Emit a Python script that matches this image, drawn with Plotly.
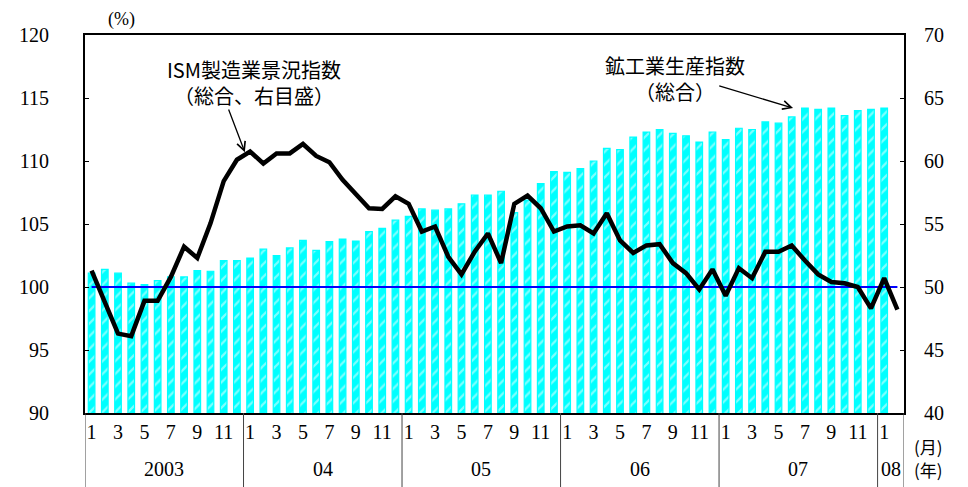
import plotly.graph_objects as go

# ---- data ----
year_labels = ["2003", "04", "05", "06", "07", "08"]
months_in_year = [12, 12, 12, 12, 12, 2]

# 鉱工業生産指数（総合）, Jan 2003 - Jan 2008 (left axis)
production = [
    101.1, 101.4, 101.1, 100.3, 100.2, 100.5, 100.8, 100.8, 101.3, 101.25, 102.1, 102.1,
    102.3, 103.0, 102.5, 103.1, 103.7, 102.9, 103.6, 103.8, 103.65, 104.4, 104.65, 105.3,
    105.6, 106.2, 106.1, 106.2, 106.6, 107.3, 107.3, 107.6, 105.9, 106.9, 108.2, 109.15,
    109.1, 109.4, 110.0, 111.0, 110.9, 111.9, 112.3, 112.5, 112.2, 112.0, 111.5, 112.3,
    111.7, 112.6, 112.5, 113.1, 113.0, 113.5, 114.2, 114.1, 114.2, 113.6, 114.0, 114.1,
    114.2,
]

# ISM製造業景況指数（総合）, Jan 2003 - Feb 2008 (right axis)
ism = [
    51.3, 48.7, 46.3, 46.1, 48.9, 48.9, 50.8, 53.2, 52.3, 55.05, 58.4, 60.1,
    60.75, 59.8, 60.6, 60.6, 61.35, 60.4, 59.9, 58.5, 57.35, 56.25, 56.2, 57.2,
    56.6, 54.4, 54.8, 52.4, 51.0, 52.8, 54.25, 51.9, 56.6, 57.25, 56.25, 54.4,
    54.8, 54.9, 54.25, 55.85, 53.7, 52.7, 53.3, 53.4, 51.9, 51.1, 49.8, 51.4,
    49.3, 51.5, 50.7, 52.8, 52.8, 53.3, 52.1, 51.0, 50.4, 50.3, 50.0, 48.3,
    50.7, 48.2,
]

base_level = 100  # 基準線 (左目盛100 = 右目盛50)

left_ticks = [90, 95, 100, 105, 110, 115, 120]
right_ticks = [40, 45, 50, 55, 60, 65, 70]

# ---- derived indices ----
n_total = sum(months_in_year)
idx = list(range(n_total))
month_num = []
for m in months_in_year:
    month_num += list(range(1, m + 1))
tickvals = [i for i in idx if month_num[i] % 2 == 1]
ticktext = [str(month_num[i]) for i in tickvals]

serif = "Liberation Serif"
gothic = "Noto Sans CJK JP"

fig = go.Figure()

fig.add_trace(go.Bar(
    x=idx[:len(production)], y=production, yaxis="y",
    width=0.5,
    marker=dict(
        color="#00FFFF",
        line=dict(color="#00FFFF", width=1.2),
        pattern=dict(shape="/", fgcolor="white", bgcolor="#00FFFF", size=9, solidity=0.25),
    ),
    showlegend=False,
))

fig.add_trace(go.Scatter(
    x=[idx[0], idx[-1]], y=[base_level, base_level], yaxis="y",
    mode="lines", line=dict(color="#0000FF", width=2), showlegend=False,
))

fig.add_trace(go.Scatter(
    x=idx, y=ism, yaxis="y2",
    mode="lines", line=dict(color="black", width=4.5), showlegend=False,
))

# year divider lines and labels
shapes = []
annotations = []
start = 0
bounds = [-0.5]
for ylab, m in zip(year_labels, months_in_year):
    end = start + m
    bounds.append(end - 0.5)
    annotations.append(dict(
        x=(start + end - 1) / 2, y=-0.148, xref="x", yref="paper",
        text=ylab, showarrow=False, font=dict(family=serif, size=20, color="black"),
        xanchor="center", yanchor="middle",
    ))
    start = end
for b in bounds:
    shapes.append(dict(type="line", xref="x", yref="paper", x0=b, x1=b, y0=0, y1=-0.2,
                       line=dict(color="#444444", width=1)))

label_font = dict(family=gothic, size=20, color="black")
annotations += [
    dict(x=1.03, y=-0.088, xref="paper", yref="paper", text="(月)", showarrow=False,
         font=dict(family=gothic, size=17, color="black"), xanchor="center", yanchor="middle"),
    dict(x=1.03, y=-0.15, xref="paper", yref="paper", text="(年)", showarrow=False,
         font=dict(family=gothic, size=17, color="black"), xanchor="center", yanchor="middle"),
    dict(x=0.045, y=1.04, xref="paper", yref="paper", text="(%)", showarrow=False,
         font=dict(family=serif, size=18, color="black"), xanchor="center", yanchor="middle"),
    dict(x=12.3, y=66.2, xref="x", yref="y2", text="ISM製造業景況指数<br>（総合、右目盛）",
         showarrow=False, font=label_font, xanchor="center", yanchor="middle"),
    dict(x=44.2, y=116.56, xref="x", yref="y", text="鉱工業生産指数<br>（総合）",
         showarrow=False, font=label_font, xanchor="center", yanchor="middle"),
    # arrows
    dict(x=11.6, y=60.7, xref="x", yref="y2", ax=10.33, ay=64.2, axref="x", ayref="y2",
         text="", showarrow=True, arrowhead=5, arrowsize=1.3, arrowwidth=1.3, arrowcolor="black"),
    dict(x=53.1, y=114.2, xref="x", yref="y", ax=47.4, ay=116.0, axref="x", ayref="y",
         text="", showarrow=True, arrowhead=5, arrowsize=1.3, arrowwidth=1.3, arrowcolor="black"),
]

# page body adds an 8px offset, so the figure is sized to the remaining window
fig.update_layout(
    width=960, height=479,
    margin=dict(l=77, r=64, t=27, b=74, autoexpand=False),
    plot_bgcolor="white", paper_bgcolor="white",
    xaxis=dict(
        range=[-0.5, n_total - 0.5], tickvals=tickvals, ticktext=ticktext,
        ticks="", showgrid=False, zeroline=False, automargin=False,
        showline=True, linecolor="black", linewidth=2, mirror=True,
        tickfont=dict(family=serif, size=20, color="black"),
    ),
    yaxis=dict(
        range=[90, 120], tickvals=left_ticks, ticks="inside", ticklen=4, tickcolor="black",
        showgrid=False, zeroline=False, showline=True, linecolor="black", linewidth=2,
        automargin=False,
        tickfont=dict(family=serif, size=20, color="black"), ticklabelstandoff=30,
    ),
    yaxis2=dict(
        range=[40, 70], tickvals=right_ticks, overlaying="y", side="right",
        ticks="inside", ticklen=4, tickcolor="black", automargin=False,
        showgrid=False, zeroline=False, showline=True, linecolor="black", linewidth=2,
        tickfont=dict(family=serif, size=20, color="black"), ticklabelstandoff=14,
    ),
    shapes=shapes,
    annotations=annotations,
)

fig.write_html("out.html")
